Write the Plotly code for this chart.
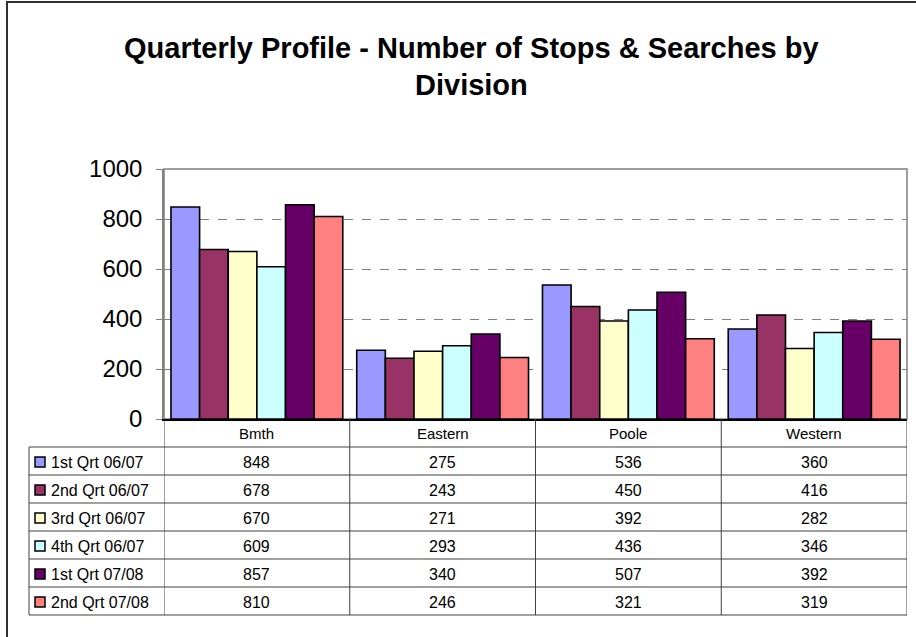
import plotly.graph_objects as go

categories = ["Bmth", "Eastern", "Poole", "Western"]
series_names = ["1st Qrt 06/07", "2nd Qrt 06/07", "3rd Qrt 06/07",
                "4th Qrt 06/07", "1st Qrt 07/08", "2nd Qrt 07/08"]
q1_0607 = [848, 275, 536, 360]
q2_0607 = [678, 243, 450, 416]
q3_0607 = [670, 271, 392, 282]
q4_0607 = [609, 293, 436, 346]
q1_0708 = [857, 340, 507, 392]
q2_0708 = [810, 246, 321, 319]
series_values = [q1_0607, q2_0607, q3_0607, q4_0607, q1_0708, q2_0708]
colors = ["#9999FF", "#993366", "#FFFFCC", "#CCFFFF", "#660066", "#FF8080"]
y_ticks = [0, 200, 400, 600, 800, 1000]

W, H = 916, 637
L, R, T, B = 164, 907, 169, 419  # plot area in pixels
FONT = "Liberation Sans, Arial, sans-serif"


def px(x):
    return (x - L) / (R - L)


def py(y):
    return (B - y) / (B - T)


fig = go.Figure()
xs = list(range(len(categories)))
for name, vals, col in zip(series_names, series_values, colors):
    fig.add_trace(go.Bar(x=xs, y=vals, name=name, marker=dict(color=col, line=dict(color="#000000", width=1.6)),
                         showlegend=False))

shapes = []
annotations = []

# outer chart border
shapes.append(dict(type="rect", xref="paper", yref="paper", x0=px(7), y0=py(H + 10), x1=px(W + 10), y1=py(2),
                   line=dict(color="#303030", width=2)))
# plot area border (top/right)
shapes.append(dict(type="rect", xref="paper", yref="paper", x0=0, y0=0, x1=1, y1=1,
                   line=dict(color="#808080", width=1.5), layer="below"))

# table geometry
header_bottom = 447
row_h = 28
n_rows = len(series_names)
table_bottom = header_bottom + row_h * n_rows
leg_left = 29
line_col = "#404040"

# horizontal lines
for i in range(n_rows + 1):
    yy = header_bottom + row_h * i
    shapes.append(dict(type="line", xref="paper", yref="paper", x0=px(leg_left), x1=1, y0=py(yy), y1=py(yy),
                       line=dict(color=line_col, width=1)))
# vertical lines at category boundaries
for k in range(len(categories) + 1):
    shapes.append(dict(type="line", xref="x", yref="paper", x0=k - 0.5, x1=k - 0.5, y0=py(B), y1=py(table_bottom),
                       line=dict(color=line_col, width=1)))
# legend column left border
shapes.append(dict(type="line", xref="paper", yref="paper", x0=px(leg_left), x1=px(leg_left),
                   y0=py(header_bottom), y1=py(table_bottom), line=dict(color=line_col, width=1)))

# header labels
for k, c in enumerate(categories):
    annotations.append(dict(x=k, y=py((B + header_bottom) / 2), xref="x", yref="paper", text=c, showarrow=False,
                            font=dict(family=FONT, size=15, color="#000"), xanchor="center", yanchor="middle"))

# rows
for i, (name, vals, col) in enumerate(zip(series_names, series_values, colors)):
    cy = header_bottom + row_h * i + row_h / 2 + 1
    shapes.append(dict(type="rect", xref="paper", yref="paper", x0=px(35), x1=px(45), y0=py(cy - 5), y1=py(cy + 5),
                       fillcolor=col, line=dict(color="#000", width=1.5)))
    annotations.append(dict(x=px(49), y=py(cy), xref="paper", yref="paper", text=name, showarrow=False,
                            font=dict(family=FONT, size=16, color="#000"), xanchor="left", yanchor="middle"))
    for k, v in enumerate(vals):
        annotations.append(dict(x=k, y=py(cy), xref="x", yref="paper", text=str(v), showarrow=False,
                                font=dict(family=FONT, size=16, color="#000"), xanchor="center", yanchor="middle"))

# title
annotations.append(dict(x=px(471), y=py(48), xref="paper", yref="paper",
                        text="<b>Quarterly Profile - Number of Stops & Searches by</b>", showarrow=False,
                        font=dict(family=FONT, size=29, color="#000"), xanchor="center", yanchor="middle"))
annotations.append(dict(x=px(471), y=py(85), xref="paper", yref="paper", text="<b>Division</b>", showarrow=False,
                        font=dict(family=FONT, size=29, color="#000"), xanchor="center", yanchor="middle"))

fig.update_layout(
    width=W, height=H,
    margin=dict(l=L, r=W - R, t=T, b=H - B, pad=0),
    paper_bgcolor="#FFFFFF", plot_bgcolor="#FFFFFF",
    barmode="group", bargap=0.075, bargroupgap=0,
    shapes=shapes, annotations=annotations,
    font=dict(family=FONT, color="#000"),
)
fig.update_xaxes(range=[-0.5, len(categories) - 0.5], showticklabels=False, showgrid=False, zeroline=False,
                 showline=True, linecolor="#000000", linewidth=1.5, ticks="", fixedrange=True)
fig.update_yaxes(range=[0, 1000], tickvals=y_ticks, showgrid=True, gridcolor="#808080", griddash="dash",
                 gridwidth=1, zeroline=False, showline=True, linecolor="#808080", linewidth=1.5,
                 ticks="outside", ticklen=6, tickcolor="#808080", ticklabelstandoff=9,
                 tickfont=dict(family=FONT, size=24, color="#000"), fixedrange=True)

fig.write_html("out.html", config={"displayModeBar": False},
               post_script="document.body.style.margin='0px';document.body.style.overflow='hidden';")
